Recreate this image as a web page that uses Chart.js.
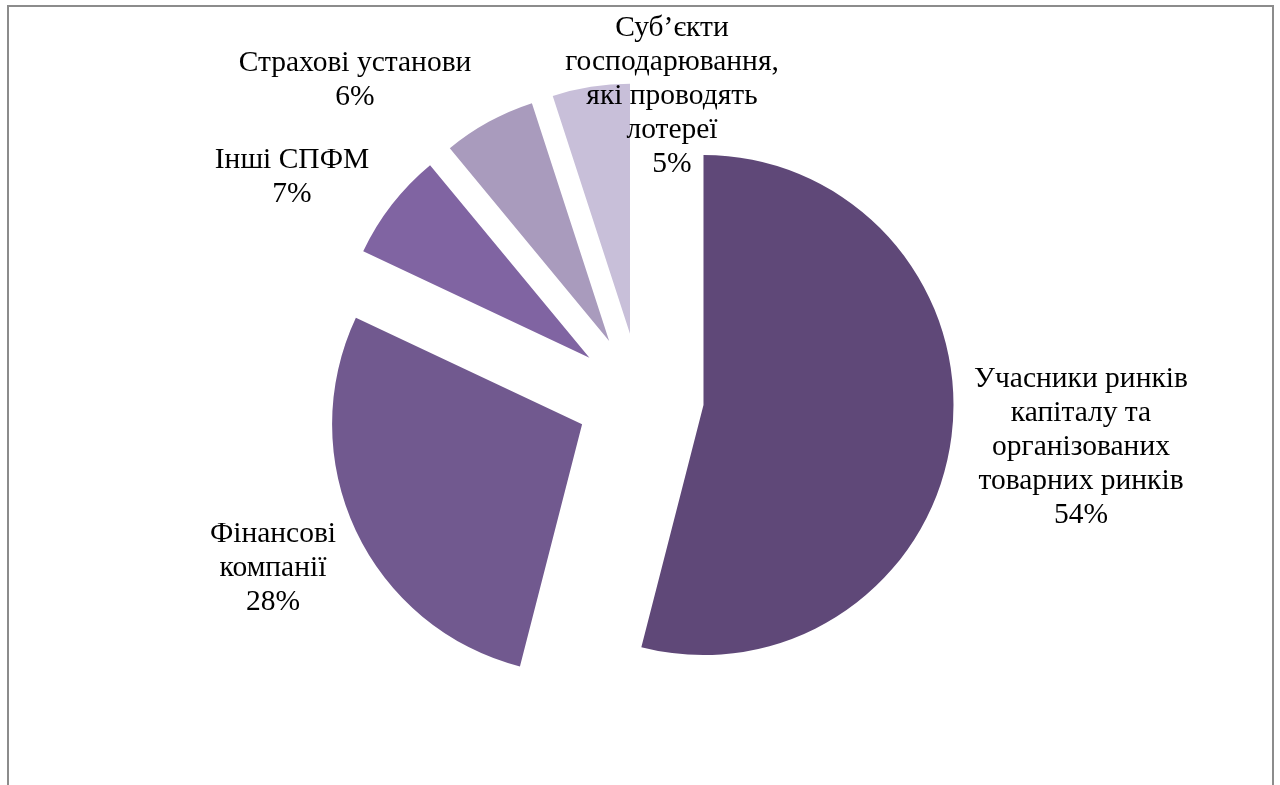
<!DOCTYPE html>
<html>
<head>
<meta charset="utf-8">
<script src="https://cdn.jsdelivr.net/npm/chart.js@4/dist/chart.umd.min.js"></script>
<style>
    html, body { margin: 0; padding: 0; background: #fff; overflow: hidden; }
    #frame {
        position: absolute; left: 7px; top: 5px; width: 1263px; height: 820px;
        border: 2px solid #8c8c8c; border-bottom: none;
    }
    #wrap { position: absolute; left: 0; top: 0; width: 1280px; height: 785px; }
</style>
</head>
<body>
<div id="frame"></div>
<div id="wrap"><canvas id="pie"></canvas></div>
<script>

// share of each type of entity, per cent
const categories = [
    ['Учасники ринків', 'капіталу та', 'організованих', 'товарних ринків'],
    ['Фінансові', 'компанії'],
    ['Інші СПФМ'],
    ['Страхові установи'],
    ['Суб’єкти', 'господарювання,', 'які проводять', 'лотереї']
];
const shares = [54, 28, 7, 6, 5];
const sliceColors = ['#5f4878', '#71598f', '#8064a2', '#a99bbd', '#c8bfd9'];

// where each label block sits, relative to the pie centre
const labelOffsets = [[441, 50], [-367, 171], [-348, -220], [-285, -317], [32, -301]];

const EXPLODE = 64;
const FONT = '29.5px "Liberation Serif", "Times New Roman", serif';
const LINE_H = 34;

// pulls every slice away from the centre by the same distance
const explodePlugin = {
    id: 'explode',
    beforeDatasetDraw(chart, args) {
        const ctx = chart.ctx;
        args.meta.data.forEach(function (arc) {
            const mid = (arc.startAngle + arc.endAngle) / 2;
            ctx.save();
            ctx.translate(Math.cos(mid) * EXPLODE, Math.sin(mid) * EXPLODE);
            arc.draw(ctx);
            ctx.restore();
        });
        return false;
    }
};

const labelPlugin = {
    id: 'sliceLabels',
    afterDatasetsDraw(chart) {
        const ctx = chart.ctx;
        const meta = chart.getDatasetMeta(0);
        const total = shares.reduce(function (a, b) { return a + b; }, 0);
        ctx.save();
        ctx.font = FONT;
        ctx.fillStyle = '#000';
        ctx.textAlign = 'center';
        ctx.textBaseline = 'middle';
        meta.data.forEach(function (arc, i) {
            const lines = categories[i].concat([Math.round(shares[i] / total * 100) + '%']);
            const cx = arc.x + labelOffsets[i][0];
            const cy = arc.y + labelOffsets[i][1];
            const top = cy - (lines.length - 1) * LINE_H / 2;
            lines.forEach(function (t, k) {
                ctx.fillText(t, cx, top + k * LINE_H);
            });
        });
        ctx.restore();
    }
};

new Chart(document.getElementById('pie'), {
    type: 'pie',
    data: {
        labels: categories.map(function (c) { return c.join(' '); }),
        datasets: [{
            data: shares,
            backgroundColor: sliceColors,
            borderWidth: 0,
            radius: 250
        }]
    },
    options: {
        responsive: true,
        maintainAspectRatio: false,
        animation: false,
        events: [],
        layout: { padding: { top: 9, bottom: 0 } },
        plugins: {
            legend: { display: false },
            tooltip: { enabled: false }
        }
    },
    plugins: [explodePlugin, labelPlugin]
});
</script>
</body>
</html>
